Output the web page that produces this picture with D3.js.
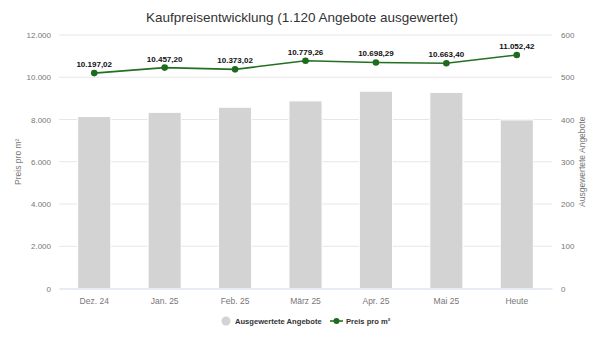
<!DOCTYPE html>
<html>
  <head>
    <meta charset="utf-8">
    <style>
      body { margin: 0; background: #fff; }
      svg { font-family: "Liberation Sans", Arial, sans-serif; }
      .grid line { stroke: #e6e6e6; }
      .tick text { fill: #777; font-size: 8px; }
    </style>
  </head>
  <body>
    <script src="https://d3js.org/d3.v7.min.js"></script>
    <script type="text/javascript">
      // Kaufpreisentwicklung: Balken = ausgewertete Angebote, Linie = Preis pro m²
      const months = ['Dez. 24', 'Jan. 25', 'Feb. 25', 'März 25', 'Apr. 25', 'Mai 25', 'Heute'];
      const offers = [407, 417, 429, 444, 467, 464, 399];
      const prices = [10197.02, 10457.20, 10373.02, 10779.26, 10698.29, 10663.40, 11052.42];
      const priceTicks = [0, 2000, 4000, 6000, 8000, 10000, 12000];
      const offerTicks = [0, 100, 200, 300, 400, 500, 600];

      const width = 605;
      const height = 341;
      const margin = { top: 35, right: 53, bottom: 52.5, left: 59 };

      const svg = d3.select('body')
        .append('svg')
        .attr('width', width)
        .attr('height', height);

      const locale = d3.formatLocale({ decimal: ',', thousands: '.', grouping: [3], currency: ['', '€'] });
      const fmtPrice = locale.format(',.2f');
      const fmtTick = locale.format(',.0f');

      const x = d3.scaleBand()
        .domain(months)
        .range([margin.left, width - margin.right])
        .paddingInner(0.53)
        .paddingOuter(0.265);

      const yLeft = d3.scaleLinear()
        .domain([0, 12000])
        .range([height - margin.bottom, margin.top]);

      const yRight = d3.scaleLinear()
        .domain([0, 600])
        .range([height - margin.bottom, margin.top]);

      // gridlines
      svg.append('g')
        .attr('class', 'grid')
        .selectAll('line')
        .data(priceTicks.slice(1))
        .join('line')
        .attr('x1', margin.left)
        .attr('x2', width - margin.right)
        .attr('y1', d => yLeft(d))
        .attr('y2', d => yLeft(d));

      // bars
      svg.append('g')
        .selectAll('rect')
        .data(offers)
        .join('rect')
        .attr('x', (d, i) => x(months[i]))
        .attr('y', d => yRight(d))
        .attr('width', x.bandwidth())
        .attr('height', d => yRight(0) - yRight(d))
        .attr('fill', '#d3d3d3')
        .attr('stroke', '#fff')
        .attr('stroke-width', 1);

      // bottom axis
      const xAxis = svg.append('g')
        .attr('transform', `translate(0,${height - margin.bottom})`)
        .call(d3.axisBottom(x).tickSize(0).tickPadding(9));
      xAxis.select('.domain').attr('stroke', '#ccd6eb');
      xAxis.selectAll('text').style('font-size', '8.5px');

      // left axis
      const leftAxis = svg.append('g')
        .attr('transform', `translate(${margin.left - 8},0)`)
        .call(d3.axisLeft(yLeft).tickValues(priceTicks).tickFormat(fmtTick).tickSize(0).tickPadding(0));
      leftAxis.select('.domain').remove();

      // right axis
      const rightAxis = svg.append('g')
        .attr('transform', `translate(${width - margin.right + 9},0)`)
        .call(d3.axisRight(yRight).tickValues(offerTicks).tickSize(0).tickPadding(0));
      rightAxis.select('.domain').remove();

      // axis titles
      svg.append('text')
        .attr('transform', `translate(21,${yLeft(6000)}) rotate(-90)`)
        .attr('text-anchor', 'middle')
        .attr('fill', '#777')
        .style('font-size', '8.5px')
        .text('Preis pro m²');

      svg.append('text')
        .attr('transform', `translate(585,${yLeft(6000)}) rotate(-90)`)
        .attr('text-anchor', 'middle')
        .attr('fill', '#777')
        .style('font-size', '8.5px')
        .text('Ausgewertete Angebote');

      // price line
      const cx = (d, i) => x(months[i]) + x.bandwidth() / 2;
      const line = d3.line()
        .x(cx)
        .y(d => yLeft(d));

      svg.append('path')
        .datum(prices)
        .attr('d', line)
        .attr('fill', 'none')
        .attr('stroke', '#237023')
        .attr('stroke-width', 1.6);

      svg.append('g')
        .selectAll('circle')
        .data(prices)
        .join('circle')
        .attr('cx', cx)
        .attr('cy', d => yLeft(d))
        .attr('r', 3.3)
        .attr('fill', '#1e6b1e');

      svg.append('g')
        .selectAll('text')
        .data(prices)
        .join('text')
        .attr('x', cx)
        .attr('y', d => yLeft(d) - 6)
        .attr('text-anchor', 'middle')
        .attr('fill', '#111')
        .attr('stroke', '#fff')
        .attr('stroke-width', 2)
        .attr('paint-order', 'stroke')
        .style('font-size', '8px')
        .style('font-weight', 'bold')
        .text(d => fmtPrice(d));

      // title
      svg.append('text')
        .attr('x', 302)
        .attr('y', 22)
        .attr('text-anchor', 'middle')
        .attr('fill', '#333')
        .style('font-size', '13.5px')
        .text('Kaufpreisentwicklung (1.120 Angebote ausgewertet)');

      // legend
      const legend = svg.append('g').attr('transform', 'translate(0,321)');
      legend.append('circle')
        .attr('cx', 226)
        .attr('cy', 0)
        .attr('r', 4.5)
        .attr('fill', '#d3d3d3');
      legend.append('text')
        .attr('x', 235)
        .attr('y', 3)
        .attr('fill', '#333')
        .style('font-size', '7.6px')
        .style('font-weight', 'bold')
        .text('Ausgewertete Angebote');
      legend.append('line')
        .attr('x1', 330)
        .attr('x2', 343)
        .attr('y1', 0)
        .attr('y2', 0)
        .attr('stroke', '#237023')
        .attr('stroke-width', 1.6);
      legend.append('circle')
        .attr('cx', 336.5)
        .attr('cy', 0)
        .attr('r', 3)
        .attr('fill', '#1e6b1e');
      legend.append('text')
        .attr('x', 346)
        .attr('y', 3)
        .attr('fill', '#333')
        .style('font-size', '7.6px')
        .style('font-weight', 'bold')
        .text('Preis pro m²');
    </script>
  </body>
</html>
